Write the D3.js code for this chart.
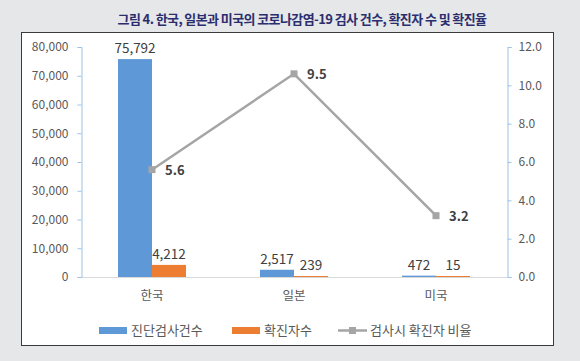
<!DOCTYPE html>
<html>
<head>
<meta charset="utf-8">
<script src="https://cdn.jsdelivr.net/npm/d3@7"></script>
<style>
  body { margin: 0; background: #e6e7e9; }
  svg { display: block; }
</style>
</head>
<body>
<svg id="chart" width="580" height="361"></svg>
<script>
var countries = ['한국', '일본', '미국'];
var tests = [75792, 2517, 472];
var confirmed = [4212, 239, 15];
// plotted positions of the ratio line as drawn, and the labels shown next to them
var ratio = [5.6, 10.6, 3.2];
var ratioLabels = ['5.6', '9.5', '3.2'];
var leftTicks = [0, 10000, 20000, 30000, 40000, 50000, 60000, 70000, 80000];
var rightTicks = [0, 2, 4, 6, 8, 10, 12];
var seriesNames = ['진단검사건수', '확진자수', '검사시 확진자 비율'];

var BLUE = '#5f98d6', ORANGE = '#ed7d31', GRAY = '#a5a5a5';
var FONT = '"Noto Sans CJK KR", "Noto Sans", sans-serif';

var svg = d3.select('#chart');

/* title */
svg.append('text')
    .attr('x', 302).attr('y', 24)
    .attr('text-anchor', 'middle')
    .style('font-family', FONT)
    .style('font-size', '13px')
    .style('font-weight', 'bold')
    .style('letter-spacing', '-0.6px')
    .style('fill', '#2b2e6e')
    .text('그림 4. 한국, 일본과 미국의 코로나감염-19 검사 건수, 확진자 수 및 확진율');

/* white chart box */
svg.append('rect')
    .attr('x', 21.5).attr('y', 32.5)
    .attr('width', 532).attr('height', 313)
    .style('fill', '#fff')
    .style('stroke', '#3a3a3a')
    .style('stroke-width', 1);

var plotLeft = 81, plotRight = 507, plotTop = 47, plotBottom = 277;

var x = d3.scaleBand().domain(countries).range([plotLeft, plotRight]);
var yL = d3.scaleLinear().domain([0, 80000]).range([plotBottom, plotTop]);
var yR = d3.scaleLinear().domain([0, 12]).range([plotBottom, plotTop]);
var barW = 34;

var g = svg.append('g');

/* baseline */
g.append('line')
    .attr('x1', plotLeft).attr('x2', plotRight)
    .attr('y1', plotBottom + 0.5).attr('y2', plotBottom + 0.5)
    .style('stroke', '#d9d9d9');

/* axes */
var axL = g.append('g').attr('transform', 'translate(' + (plotLeft + 0.5) + ',0)')
    .call(d3.axisLeft(yL).tickValues(leftTicks).tickSize(4).tickPadding(9)
        .tickFormat(d3.format(',')));
var axR = g.append('g').attr('transform', 'translate(' + (plotRight + 0.5) + ',0)')
    .call(d3.axisRight(yR).tickValues(rightTicks).tickSize(4).tickPadding(7)
        .tickFormat(d3.format('.1f')));
[axL, axR].forEach(function (ax) {
    ax.selectAll('path, line').style('stroke', '#9dc3e6');
    ax.selectAll('text')
        .style('font-family', FONT)
        .style('font-size', '12px')
        .style('fill', '#595959');
});

/* bars */
function barH(v) { return Math.max(plotBottom - yL(v), 1); }
g.selectAll('.bar-t').data(tests).enter().append('rect')
    .attr('x', function (d, i) { return x(countries[i]) + x.bandwidth() / 2 - barW; })
    .attr('y', function (d) { return plotBottom - barH(d); })
    .attr('width', barW)
    .attr('height', function (d) { return barH(d); })
    .style('fill', BLUE);
g.selectAll('.bar-c').data(confirmed).enter().append('rect')
    .attr('x', function (d, i) { return x(countries[i]) + x.bandwidth() / 2; })
    .attr('y', function (d) { return plotBottom - barH(d); })
    .attr('width', barW)
    .attr('height', function (d) { return barH(d); })
    .style('fill', ORANGE);

/* bar labels */
function barLabels(data, dx) {
    g.selectAll(null).data(data).enter().append('text')
        .attr('x', function (d, i) { return x(countries[i]) + x.bandwidth() / 2 + dx; })
        .attr('y', function (d) { return plotBottom - barH(d) - 6; })
        .attr('text-anchor', 'middle')
        .style('font-family', FONT)
        .style('font-size', '13.5px')
        .style('fill', '#404040')
        .text(d3.format(','));
}
barLabels(tests, -barW / 2);
barLabels(confirmed, barW / 2);

/* ratio line */
var cx = function (i) { return x(countries[i]) + x.bandwidth() / 2; };
g.append('path')
    .datum(ratio)
    .attr('d', d3.line().x(function (d, i) { return cx(i); }).y(function (d) { return yR(d); }))
    .style('fill', 'none')
    .style('stroke', GRAY)
    .style('stroke-width', 2.5);
g.selectAll('.mk').data(ratio).enter().append('rect')
    .attr('x', function (d, i) { return cx(i) - 3.5; })
    .attr('y', function (d) { return yR(d) - 3.5; })
    .attr('width', 7).attr('height', 7)
    .style('fill', GRAY);
g.selectAll('.rl').data(ratio).enter().append('text')
    .attr('x', function (d, i) { return cx(i) + 13; })
    .attr('y', function (d) { return yR(d) + 5; })
    .style('font-family', FONT)
    .style('font-size', '13px')
    .style('font-weight', 'bold')
    .style('fill', '#404040')
    .text(function (d, i) { return ratioLabels[i]; });

/* category labels */
g.selectAll('.cat').data(countries).enter().append('text')
    .attr('x', function (d) { return x(d) + x.bandwidth() / 2; })
    .attr('y', 300)
    .attr('text-anchor', 'middle')
    .style('font-family', FONT)
    .style('font-size', '12.5px')
    .style('fill', '#595959')
    .text(function (d) { return d; });

/* legend */
var legendX = [99, 232, 338];
var lg = g.selectAll('.lg').data(seriesNames).enter().append('g')
    .attr('transform', function (d, i) { return 'translate(' + legendX[i] + ',330)'; });
lg.each(function (d, i) {
    var s = d3.select(this);
    if (i < 2) {
        s.append('rect').attr('x', 0).attr('y', -3).attr('width', 28).attr('height', 7)
            .style('fill', i === 0 ? BLUE : ORANGE);
    } else {
        s.append('line').attr('x1', 0).attr('x2', 29).attr('y1', 0.5).attr('y2', 0.5)
            .style('stroke', GRAY).style('stroke-width', 2.5);
        s.append('rect').attr('x', 11).attr('y', -3).attr('width', 7).attr('height', 7)
            .style('fill', GRAY);
    }
    s.append('text').attr('x', 32).attr('y', 5)
        .style('font-family', FONT)
        .style('font-size', '13px')
        .style('fill', '#595959')
        .text(d);
});
</script>
</body>
</html>
